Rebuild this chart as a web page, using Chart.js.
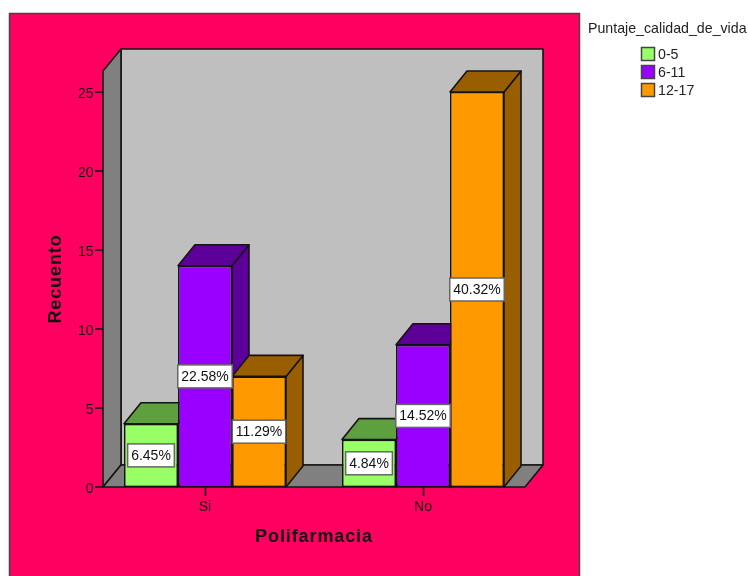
<!DOCTYPE html>
<html>
<head>
<meta charset="utf-8">
<title>Polifarmacia</title>
<script src="https://cdn.jsdelivr.net/npm/chart.js@4"></script>
<style>
  html, body { margin: 0; padding: 0; background: #fff; overflow: hidden; }
  canvas { display: block; }
</style>
</head>
<body>
<canvas id="myChart" width="748" height="576"></canvas>
<script>
const categories = ["Si", "No"];
const groups = ["0-5", "6-11", "12-17"];
const lowScores = [4, 3];
const midScores = [14, 9];
const highScores = [7, 25];
const lowPercents = ["6.45%", "4.84%"];
const midPercents = ["22.58%", "14.52%"];
const highPercents = ["11.29%", "40.32%"];
const xTitle = "Polifarmacia";
const yTitle = "Recuento";
const legendTitle = "Puntaje_calidad_de_vida";

const fontFamily = "'Liberation Sans', Arial, sans-serif";
const textColor = "#1a0010";
const lineColor = "#141414";

const fronts = ["#99ff66", "#9900ff", "#ff9900"];
const shades = ["#5ea03f", "#5c0099", "#995e00"];

// depth of the fake 3D box around the plot
const wallDx = 18;
const wallDy = 22;
const barDx = 17;
const barDy = 21;
const wallInset = 7;

const polygon = (ctx, points, fill) => {
  ctx.beginPath();
  points.forEach((p, i) => (i ? ctx.lineTo(p[0], p[1]) : ctx.moveTo(p[0], p[1])));
  ctx.closePath();
  ctx.fillStyle = fill;
  ctx.fill();
  ctx.stroke();
};

const framePlugin = {
  id: "frame",
  beforeDraw(chart) {
    const ctx = chart.ctx;
    ctx.save();
    ctx.fillStyle = "#ffffff";
    ctx.fillRect(0, 0, chart.width, chart.height);
    ctx.fillStyle = "#ff0060";
    ctx.strokeStyle = "#444444";
    ctx.lineWidth = 1.5;
    ctx.fillRect(9.5, 13.5, 570, 570);
    ctx.strokeRect(9.5, 13.5, 570, 570);
    ctx.restore();
  },
};

const boxPlugin = {
  id: "box3d",
  beforeDatasetsDraw(chart) {
    const ctx = chart.ctx;
    const area = chart.chartArea;
    const left = area.left + wallInset;
    const right = area.right - wallInset;
    ctx.save();
    ctx.lineWidth = 1.6;
    ctx.strokeStyle = lineColor;
    ctx.lineJoin = "round";

    // back wall, left wall, floor
    polygon(ctx, [[left + wallDx, area.top - wallDy], [right + wallDx, area.top - wallDy], [right + wallDx, area.bottom - wallDy], [left + wallDx, area.bottom - wallDy]], "#bfbfbf");
    polygon(ctx, [[left, area.top], [left + wallDx, area.top - wallDy], [left + wallDx, area.bottom - wallDy], [left, area.bottom]], "#808080");
    polygon(ctx, [[left, area.bottom], [left + wallDx, area.bottom - wallDy], [right + wallDx, area.bottom - wallDy], [right, area.bottom]], "#808080");

    // y axis ticks and their labels
    const yScale = chart.scales.y;
    ctx.font = "14px " + fontFamily;
    ctx.textAlign = "right";
    ctx.textBaseline = "middle";
    yScale.ticks.forEach((tick) => {
      const y = yScale.getPixelForValue(tick.value);
      ctx.beginPath();
      ctx.moveTo(left - 8, y);
      ctx.lineTo(left, y);
      ctx.stroke();
      ctx.fillStyle = textColor;
      ctx.fillText(tick.label, left - 9.5, y + 2);
    });

    // axis titles, slightly spaced out
    ctx.font = "bold 18px " + fontFamily;
    ctx.letterSpacing = "0.9px";
    ctx.textAlign = "center";
    ctx.fillStyle = "#111111";
    ctx.fillText(xTitle, (area.left + area.right) / 2, 537);
    ctx.translate(56, (area.top + area.bottom) / 2);
    ctx.rotate(-Math.PI / 2);
    ctx.fillText(yTitle, 0, 0);
    ctx.restore();

    ctx.save();
    ctx.lineWidth = 1.6;
    ctx.strokeStyle = lineColor;
    ctx.lineJoin = "round";
    // top and side of each bar, left to right so later bars sit over earlier ones
    chart.data.datasets.forEach((set, d) => {
      chart.getDatasetMeta(d).data.forEach((bar) => {
        const x0 = bar.x - bar.width / 2;
        const x1 = bar.x + bar.width / 2;
        polygon(ctx, [[x1, bar.y], [x1 + barDx, bar.y - barDy], [x1 + barDx, bar.base - barDy], [x1, bar.base]], shades[d]);
        polygon(ctx, [[x0, bar.y], [x0 + barDx, bar.y - barDy], [x1 + barDx, bar.y - barDy], [x1, bar.y]], shades[d]);
      });
    });
    ctx.restore();
  },
  afterDatasetsDraw(chart) {
    const ctx = chart.ctx;
    const percents = [lowPercents, midPercents, highPercents];
    ctx.save();
    ctx.font = "14px " + fontFamily;
    ctx.textAlign = "center";
    ctx.textBaseline = "middle";
    chart.data.datasets.forEach((set, d) => {
      chart.getDatasetMeta(d).data.forEach((bar, i) => {
        const text = percents[d][i];
        const w = ctx.measureText(text).width + 7;
        const h = 23;
        const y = (bar.y + bar.base) / 2;
        ctx.fillStyle = "#ffffff";
        ctx.strokeStyle = "#666666";
        ctx.lineWidth = 1.5;
        ctx.fillRect(bar.x - w / 2, y - h / 2, w, h);
        ctx.strokeRect(bar.x - w / 2, y - h / 2, w, h);
        ctx.fillStyle = "#111111";
        ctx.fillText(text, bar.x, y + 0.5);
      });
    });
    ctx.restore();
  },
};

const legendPlugin = {
  id: "legendBlock",
  afterDraw(chart) {
    const ctx = chart.ctx;
    ctx.save();
    ctx.font = "14.2px " + fontFamily;
    ctx.textBaseline = "middle";
    ctx.fillStyle = "#222222";
    ctx.fillText(legendTitle, 588, 29);
    groups.forEach((name, i) => {
      const y = 54 + i * 18;
      ctx.fillStyle = fronts[i];
      ctx.strokeStyle = "#444444";
      ctx.lineWidth = 1.5;
      ctx.fillRect(641.5, y - 6.5, 13, 13);
      ctx.strokeRect(641.5, y - 6.5, 13, 13);
      ctx.fillStyle = "#222222";
      ctx.fillText(name, 658, y + 1);
    });
    ctx.restore();
  },
};

const ctx = document.getElementById("myChart");
const myChart = new Chart(ctx, {
  type: "bar",
  data: {
    labels: categories,
    datasets: [
      { label: groups[0], data: lowScores, backgroundColor: fronts[0] },
      { label: groups[1], data: midScores, backgroundColor: fronts[1] },
      { label: groups[2], data: highScores, backgroundColor: fronts[2] },
    ],
  },
  options: {
    responsive: false,
    animation: false,
    layout: { padding: { left: 45, top: 71, right: 216, bottom: 29 } },
    plugins: {
      legend: { display: false },
      title: { display: false },
      tooltip: { enabled: false },
    },
    elements: {
      bar: { borderColor: lineColor, borderWidth: 1.6, borderSkipped: false },
    },
    datasets: {
      bar: { categoryPercentage: 162 / 218, barPercentage: 1 },
    },
    scales: {
      x: {
        afterFit: (scale) => { scale.height = 60; },
        grid: { offset: false, drawOnChartArea: false, drawTicks: true, tickLength: 9, tickColor: lineColor, tickWidth: 1.6 },
        border: { display: false },
        ticks: { color: textColor, font: { family: fontFamily, size: 14 }, padding: 3 },
      },
      y: {
        min: 0,
        max: 26.33,
        afterFit: (scale) => { scale.width = 51; },
        grid: { display: false },
        border: { display: false },
        ticks: { stepSize: 5, includeBounds: false, display: false },
      },
    },
  },
  plugins: [framePlugin, boxPlugin, legendPlugin],
});
</script>
</body>
</html>
